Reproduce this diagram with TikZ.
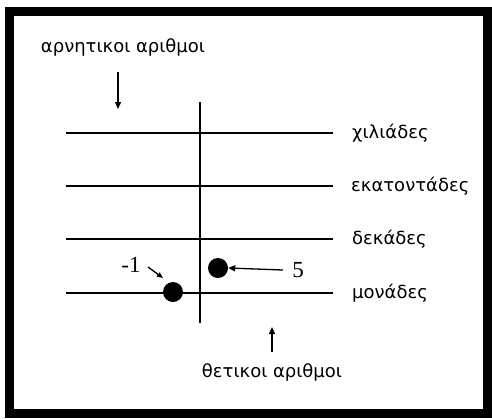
\documentclass[tikz,border=0pt]{standalone}
\usepackage{fontspec}
\setmainfont{DejaVu Sans}
\newfontfamily\numfont{Liberation Serif}
\usetikzlibrary{arrows.meta}
\begin{document}
\begin{tikzpicture}[x=1pt,y=-1pt,
  rule/.style={line width=1.8pt},
  lbl/.style={font=\fontsize{18}{18}\selectfont, inner sep=0pt},
  num/.style={font=\numfont\fontsize{23}{23}\selectfont, inner sep=0pt},
  dotmark/.style={circle, fill=black, minimum size=20pt, inner sep=0pt},
  arr/.style={line width=1.3pt, -{Triangle[length=7pt,width=6pt]}}]
\useasboundingbox (0,0) rectangle (492,418);
\fill[white] (0,0) rectangle (492,418);
\draw[line width=9pt] (9.5,11.5) rectangle (487.5,413.5);
% rows
\coordinate (r1a) at (66,133); \coordinate (r1b) at (333,133);
\coordinate (r2a) at (66,186); \coordinate (r2b) at (333,186);
\coordinate (r3a) at (66,239); \coordinate (r3b) at (333,239);
\coordinate (r4a) at (66,293); \coordinate (r4b) at (333,293);
\draw[rule] (r1a) -- (r1b);
\draw[rule] (r2a) -- (r2b);
\draw[rule] (r3a) -- (r3b);
\draw[rule] (r4a) -- (r4b);
\coordinate (vt) at (200,102); \coordinate (vb) at (200,323);
\draw[rule] (vt) -- (vb);
% labels
\node[lbl, anchor=west] (thou) at (352,133) {χιλιάδες};
\node[lbl, anchor=west] (hund) at (351,186) {εκατοντάδες};
\node[lbl, anchor=west] (tens) at (352,239) {δεκάδες};
\node[lbl, anchor=west] (ones) at (352,293) {μονάδες};
\node[lbl] (neg) at (123,47) {αρνητικοι αριθμοι};
\node[lbl] (pos) at (272,372) {θετικοι αριθμοι};
\coordinate (na) at (118,72); \coordinate (nb) at (118,109);
\draw[arr] (na) -- (nb);
\coordinate (pa) at (272,352); \coordinate (pb) at (272,327);
\draw[arr] (pa) -- (pb);
% dots
\node[dotmark] (dneg) at (173,292) {};
\node[dotmark] (dpos) at (218,268) {};
\node[num] (five) at (298,270) {5};
\node[num] (mone) at (131,265) {-1};
\draw[arr] (283,270) -- (dpos.east);
\coordinate (ma) at (148,267);
\coordinate (mb) at (163,278);
\draw[line width=1.3pt, -{Triangle[length=6pt,width=5pt]}] (ma) -- (mb);
\end{tikzpicture}
\end{document}
